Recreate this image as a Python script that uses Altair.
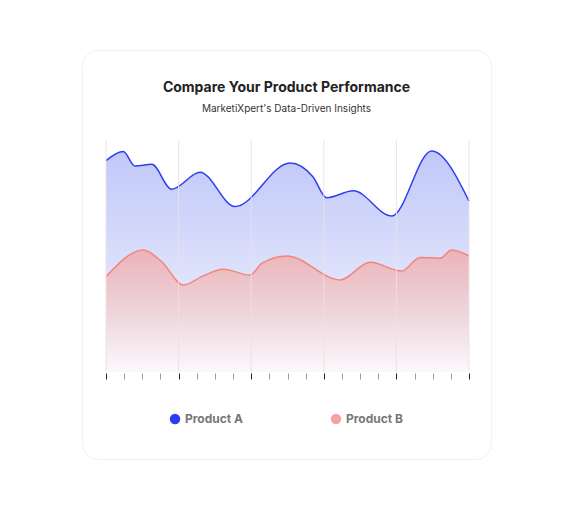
import altair as alt
import pandas as pd

# ---- data ----
a_x = [0, 0.95, 1.6, 2.52, 3.62, 5.18, 7.11, 10.14, 11.4, 12.16, 13.63, 15.74, 17.94, 20]
a_y = [91.1, 95.0, 88.8, 89.5, 78.8, 86.1, 71.3, 90.1, 84.2, 75.1, 78.1, 67.2, 95.3, 73.7]
b_x = [0, 2.06, 3.07, 4.26, 5.27, 6.46, 7.93, 8.6, 9.97, 12.9, 14.55, 16.29, 17.3, 18.4, 19.05, 20]
b_y = [41.1, 52.6, 47.5, 37.5, 41.1, 44.3, 41.8, 46.9, 50.0, 39.7, 47.3, 43.5, 49.4, 49.0, 52.6, 50.0]
tick_values = list(range(0, 21))
major_values = [0, 4, 8, 12, 16, 20]
products = ["Product A", "Product B"]
legend_colors = ["#2b3cf5", "#f3a49e"]

df_a = pd.DataFrame({"x": a_x, "v": a_y})
df_b = pd.DataFrame({"x": b_x, "v": b_y})
df_major = pd.DataFrame({"x": major_values})
df_leg = pd.DataFrame({"product": products})

W, H = 409, 409
xscale = alt.Scale(domain=[0, 20], range=[24, 387], nice=False, zero=False)
yscale = alt.Scale(domain=[0, 100], range=[322, 90], nice=False, zero=False)

x_axis = alt.Axis(
    values=tick_values, labels=False, domain=False, grid=False,
    ticks=True, tickSize=6, offset=-86, labelOverlap=False,
    tickColor={"condition": {"test": "datum.value % 4 === 0", "value": "#222222"}, "value": "#9a9a9a"},
    tickWidth=1, title=None,
)
x_enc = alt.X("x:Q", scale=xscale, axis=x_axis)
y_enc = alt.Y("v:Q", scale=yscale, axis=None)

blue_grad = alt.Gradient(
    gradient="linear", x1=0, x2=0, y1=0, y2=1,
    stops=[alt.GradientStop(color="#a5b0f5", offset=0),
           alt.GradientStop(color="#f0f2fe", offset=1)],
)
red_grad = alt.Gradient(
    gradient="linear", x1=0, x2=0, y1=0, y2=1,
    stops=[alt.GradientStop(color="#f2a29b", offset=0),
           alt.GradientStop(color="#f1cfd1", offset=0.55),
           alt.GradientStop(color="#fefafb", offset=1)],
)

area_a = alt.Chart(df_a).mark_area(
    interpolate="monotone", color=blue_grad,
    line=alt.OverlayMarkDef(color="#2f3ff0", strokeWidth=1.5),
).encode(x=x_enc, y=y_enc)

area_b = alt.Chart(df_b).mark_area(
    interpolate="monotone", color=red_grad,
    line=alt.OverlayMarkDef(color="#f2857a", strokeWidth=1.5),
).encode(x=x_enc, y=y_enc)

grid = alt.Chart(df_major).mark_rule(color="#eedfe4", strokeWidth=1, opacity=0.9).encode(
    x=x_enc,
    y=alt.datum(100, scale=yscale, axis=None),
    y2=alt.datum(0),
)

legend_layer = alt.Chart(df_leg).mark_circle(opacity=0).encode(
    color=alt.Color(
        "product:N",
        scale=alt.Scale(domain=products, range=legend_colors),
        legend=alt.Legend(
            orient="none", legendX=87, legendY=363, direction="horizontal",
            title=None, symbolType="circle", symbolSize=110, symbolOpacity=1,
            symbolStrokeWidth=0, labelFont="Inter", labelFontSize=12,
            labelFontWeight="bold", labelColor="#777777", columnPadding=86,
            labelOffset=4, padding=0,
        ),
    )
)

chart = alt.layer(area_a, area_b, grid, legend_layer).properties(
    width=W, height=H,
    autosize=alt.AutoSizeParams(type="none"),
    padding={"left": 74, "top": 42, "right": 74, "bottom": 42},
    background="#ffffff",
    title=alt.TitleParams(
        text="Compare Your Product Performance",
        subtitle="MarketiXpert's Data-Driven Insights",
        anchor="middle", font="Inter", fontSize=14, fontWeight="bold", color="#222222",
        subtitleFont="Inter", subtitleFontSize=10, subtitleColor="#333333",
        subtitlePadding=9, offset=-64,
    ),
).configure_view(
    fill="#ffffff", stroke="#f1f1f1", strokeWidth=1, cornerRadius=16,
)

chart.save("out.html", embed_options={"renderer": "svg", "actions": False})
